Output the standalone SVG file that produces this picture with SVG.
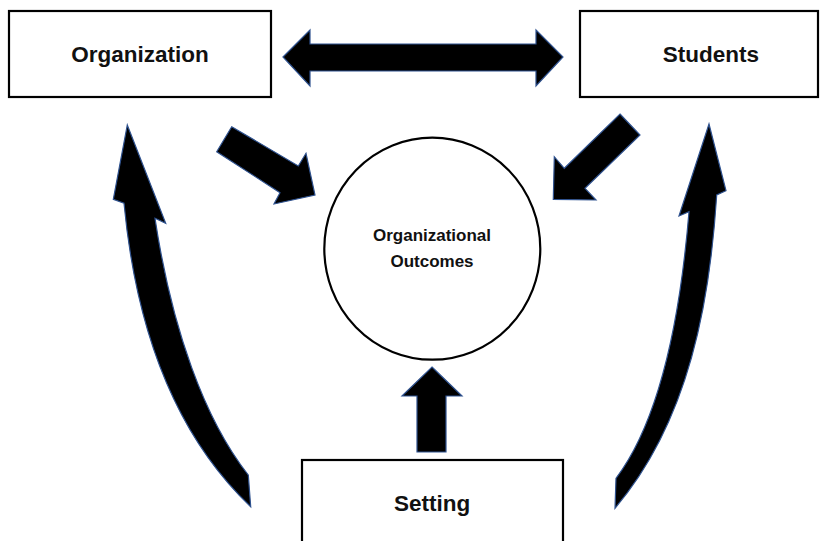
<svg xmlns="http://www.w3.org/2000/svg" width="828" height="541" viewBox="0 0 828 541">
<style>
.box{fill:#fff;stroke:#000;stroke-width:2.2}
.lbl{font-family:"Liberation Sans",Arial,sans-serif;font-weight:bold;font-size:22.5px;fill:#111;text-anchor:middle}
.sm{font-size:17px}
.arr{fill:#000;stroke:#2F528F;stroke-width:1.2;stroke-linejoin:miter}
</style>
<rect width="828" height="541" fill="#fff"/>
<g id="connectors">
<polygon class="arr" points="283,57 310,30 310,44 536,44 536,30 563,57 536,86 536,71 310,71 310,86"/>
<polygon class="arr" points="231.7,126.7 298.3,166 306,153.3 315,195 274,204 280,192.7 216.7,151.7"/>
<polygon class="arr" points="620,114 640,135 585,188.3 596,200 553.3,199.3 554.3,156.7 564.3,168.3"/>
<polygon class="arr" points="432,367 462,396 446,396 446,452 417,452 417,396 402,396"/>
<path class="arr" d="M127.3,125 L165.7,223.3 L155,218.3 C172,330 205,420 248.3,475 L250.7,506.7 C170,430 135,320 124,203.3 L113.3,199.3 Z"/>
<path class="arr" d="M709,124 L726,190.7 L716.7,195 C710,300 690,420 615,508.3 L616,478.3 C660,420 680,320 689,211.7 L679,216 Z"/>
</g>
<g id="organization">
<rect class="box" x="9" y="11" width="262" height="86"/>
<text class="lbl" x="140" y="62">Organization</text>
</g>
<g id="students">
<rect class="box" x="580" y="11" width="238" height="86"/>
<text class="lbl" x="711" y="62">Students</text>
</g>
<g id="outcomes">
<ellipse class="box" cx="432.3" cy="248.7" rx="108" ry="111"/>
<text class="lbl sm" x="432" y="241">Organizational</text>
<text class="lbl sm" x="432" y="267">Outcomes</text>
</g>
<g id="setting">
<rect class="box" x="302" y="460" width="261" height="90"/>
<text class="lbl" x="432" y="511">Setting</text>
</g>
</svg>
